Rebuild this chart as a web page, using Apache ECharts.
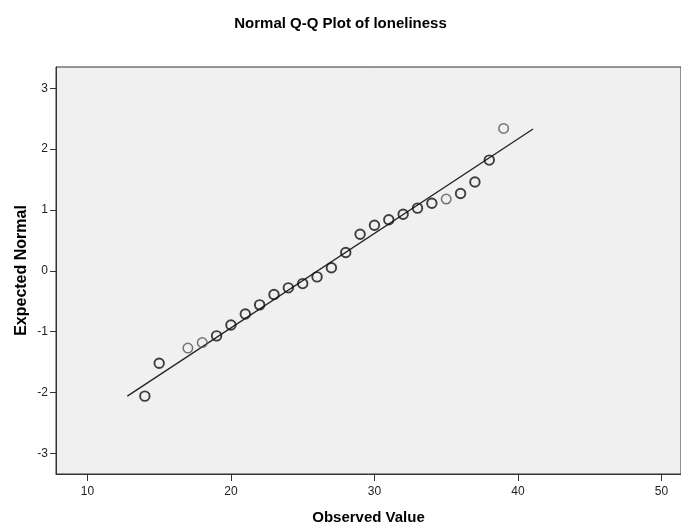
<!DOCTYPE html>
<html>
<head>
<meta charset="utf-8">
<script src="https://cdn.jsdelivr.net/npm/echarts@6/dist/echarts.min.js"></script>
<style>
html,body{margin:0;padding:0;background:#fff;}
#chart{width:681px;height:529px;}
</style>
</head>
<body>
<div id="chart"></div>
<script>
// Data
var observedValues = [14,15,17,18,19,20,21,22,23,24,25,26,27,28,29,30,31,32,33,34,35,36,37,38,39];
var expectedNormal = [-2.06,-1.52,-1.27,-1.18,-1.07,-0.89,-0.71,-0.56,-0.39,-0.28,-0.21,-0.10,0.05,0.30,0.60,0.75,0.84,0.93,1.03,1.11,1.18,1.27,1.46,1.82,2.34];
var singleCaseValues = [17,18,35,39];
var refLineX = [12.78, 41.05];
var refLineY = [-2.06, 2.33];
var xTicks = [10,20,30,40,50];
var yTicks = [-3,-2,-1,0,1,2,3];

var darkPts = [], lightPts = [];
observedValues.forEach(function(v,i){
  (singleCaseValues.indexOf(v) >= 0 ? lightPts : darkPts).push([v, expectedNormal[i]]);
});
var linePts = refLineX.map(function(v,i){return [v, refLineY[i]];});

var font = '"Liberation Sans", Arial, sans-serif';
var chart = echarts.init(document.getElementById('chart'), null, {renderer:'canvas'});
chart.setOption({
  animation:false,
  backgroundColor:'#ffffff',
  title:{
    text:'Normal Q-Q Plot of loneliness',
    left:'center', top:16, padding:0,
    textStyle:{fontFamily:font,fontSize:15,fontWeight:'bold',color:'#000'}
  },
  grid:{
    left:56, top:67, right:0, bottom:55,
    outerBoundsMode:'none', containLabel:false,
    show:true, backgroundColor:'#f0f0f0', borderColor:'#333', borderWidth:1
  },
  xAxis:{
    type:'value', min:7.81, max:51.36,
    name:'Observed Value', nameLocation:'middle', nameGap:36, nameMoveOverlap:false,
    nameTextStyle:{fontFamily:font,fontSize:15,fontWeight:'bold',color:'#000'},
    axisLine:{show:true,onZero:false,lineStyle:{color:'#333'}},
    axisTick:{show:true,length:7,customValues:xTicks,lineStyle:{color:'#333'}},
    axisLabel:{customValues:xTicks,fontFamily:font,fontSize:12,color:'#222',margin:12},
    splitLine:{show:false}
  },
  yAxis:{
    type:'value', min:-3.34, max:3.35,
    name:'Expected Normal', nameLocation:'middle', nameGap:26, nameRotate:90, nameMoveOverlap:false,
    nameTextStyle:{fontFamily:font,fontSize:16,fontWeight:'bold',color:'#000'},
    axisLine:{show:true,onZero:false,lineStyle:{color:'#333'}},
    axisTick:{show:true,length:6,customValues:yTicks,lineStyle:{color:'#333'}},
    axisLabel:{customValues:yTicks,fontFamily:font,fontSize:12,color:'#222',margin:8},
    splitLine:{show:false}
  },
  series:[
    {type:'line', data:linePts, symbol:'none', lineStyle:{color:'#222',width:1.3}, silent:true, z:2},
    {type:'scatter', data:lightPts, symbol:'circle', symbolSize:9.5,
     itemStyle:{color:'rgba(0,0,0,0)',borderColor:'#555',borderWidth:1.5}, z:3},
    {type:'scatter', data:darkPts, symbol:'circle', symbolSize:9.5,
     itemStyle:{color:'rgba(0,0,0,0)',borderColor:'#111',borderWidth:1.9}, z:3}
  ]
});
</script>
</body>
</html>
